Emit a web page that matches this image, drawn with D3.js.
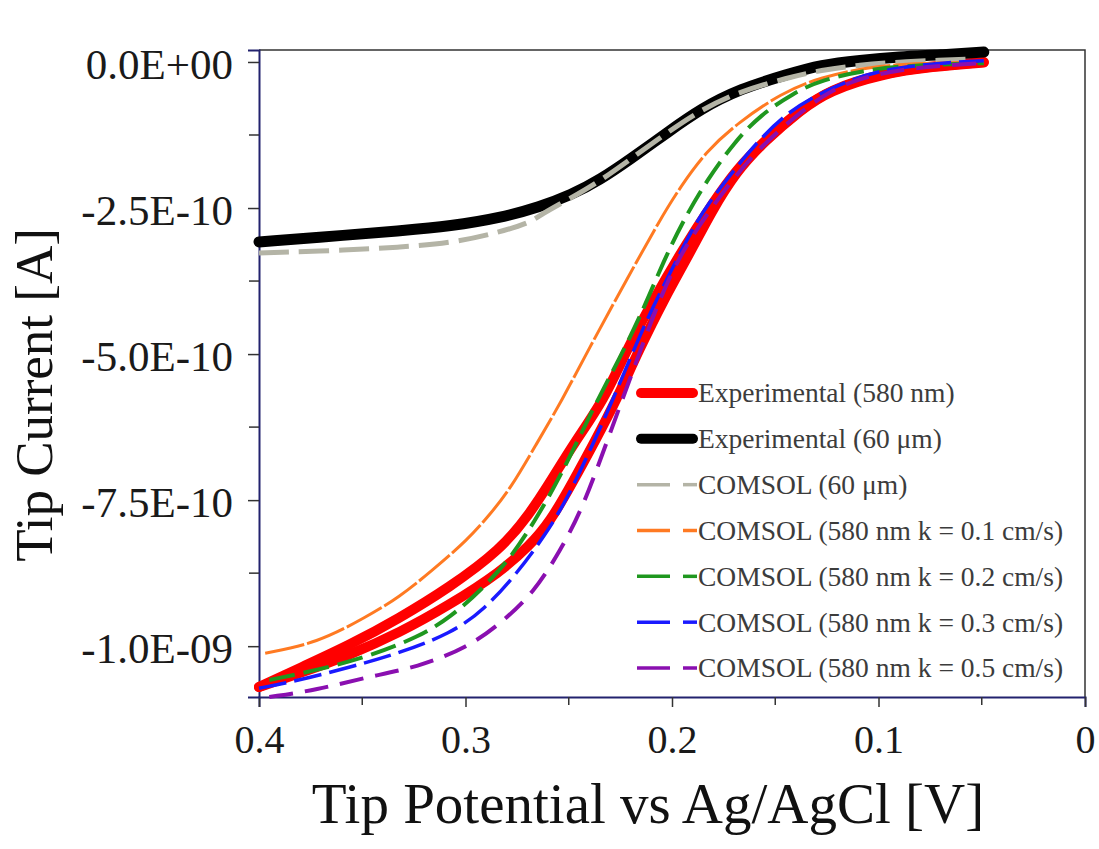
<!DOCTYPE html>
<html>
<head>
<meta charset="utf-8">
<script src="https://cdn.jsdelivr.net/npm/d3@7"></script>
<style>
  body { margin: 0; background: #fff; }
  text { font-family: "Liberation Serif", "Times New Roman", serif; }
</style>
</head>
<body>
<div id="chart"></div>
<script>
// potential in V, current in units of 1e-10 A
var expRedFwd = [[0.400,-10.70],[0.380,-10.37],[0.356,-9.98],[0.332,-9.52],[0.308,-9.00],[0.283,-8.35],
  [0.269,-7.74],[0.259,-7.19],[0.247,-6.50],[0.233,-5.79],[0.222,-4.93],[0.209,-4.07],[0.195,-3.22],
  [0.180,-2.40],[0.169,-1.85],[0.155,-1.34],[0.138,-0.82],[0.124,-0.48],[0.098,-0.19],[0.074,-0.07],
  [0.049,0.00]];
var expRedRev = [[0.400,-10.70],[0.380,-10.46],[0.356,-10.15],[0.332,-9.77],[0.308,-9.30],[0.283,-8.73],
  [0.269,-8.28],[0.259,-7.87],[0.248,-7.19],[0.237,-6.47],[0.227,-5.79],[0.216,-4.93],[0.204,-4.07],
  [0.191,-3.25],[0.181,-2.57],[0.169,-1.88],[0.155,-1.35],[0.138,-0.83],[0.124,-0.49],[0.098,-0.20],
  [0.074,-0.08],[0.049,-0.01]];
var expBlack = [[0.400,-3.08],[0.356,-2.96],[0.332,-2.89],[0.307,-2.81],[0.283,-2.67],[0.264,-2.48],
  [0.249,-2.28],[0.235,-2.02],[0.220,-1.66],[0.202,-1.20],[0.186,-0.80],[0.167,-0.46],[0.144,-0.21],
  [0.128,-0.05],[0.109,0.03],[0.090,0.09],[0.070,0.12],[0.049,0.17]];
var comsol60 = [[0.400,-3.27],[0.356,-3.22],[0.332,-3.17],[0.307,-3.10],[0.285,-2.93],[0.268,-2.74],
  [0.264,-2.62],[0.249,-2.33],[0.235,-2.04],[0.220,-1.66],[0.202,-1.20],[0.186,-0.82],[0.167,-0.50],
  [0.144,-0.27],[0.128,-0.14],[0.109,-0.05],[0.090,0.00],[0.070,0.03],[0.055,0.05]];
var comsolK01 = [[0.397,-10.12],[0.372,-9.95],[0.348,-9.50],[0.332,-9.16],[0.316,-8.70],[0.299,-8.18],
  [0.288,-7.74],[0.278,-7.29],[0.266,-6.56],[0.254,-5.84],[0.238,-4.76],[0.222,-3.73],[0.206,-2.71],
  [0.196,-2.14],[0.183,-1.51],[0.168,-1.04],[0.147,-0.53],[0.128,-0.26],[0.104,-0.08],[0.080,-0.02],[0.049,0.00]];
var comsolK02 = [[0.395,-10.58],[0.372,-10.41],[0.348,-10.19],[0.323,-9.85],[0.307,-9.50],[0.291,-8.99],
  [0.278,-8.48],[0.267,-7.89],[0.254,-7.10],[0.238,-5.91],[0.225,-5.05],[0.214,-4.25],[0.204,-3.40],
  [0.194,-2.68],[0.183,-2.02],[0.170,-1.38],[0.157,-0.90],[0.141,-0.53],[0.128,-0.31],[0.104,-0.12],
  [0.080,-0.05],[0.049,-0.02]];
var comsolK03 = [[0.400,-10.72],[0.380,-10.58],[0.356,-10.36],[0.332,-10.12],[0.307,-9.78],[0.291,-9.38],
  [0.275,-8.75],[0.262,-8.13],[0.251,-7.50],[0.238,-6.52],[0.226,-5.57],[0.214,-4.54],[0.202,-3.68],
  [0.190,-2.85],[0.183,-2.45],[0.170,-1.85],[0.157,-1.30],[0.144,-0.87],[0.131,-0.58],[0.113,-0.30],
  [0.097,-0.12],[0.065,0.00],[0.049,0.02]];
var comsolK05 = [[0.395,-10.87],[0.372,-10.75],[0.348,-10.53],[0.323,-10.36],[0.299,-10.02],[0.283,-9.61],
  [0.267,-9.09],[0.254,-8.36],[0.243,-7.62],[0.230,-6.35],[0.217,-5.10],[0.207,-4.15],[0.197,-3.35],
  [0.183,-2.60],[0.170,-1.98],[0.157,-1.45],[0.141,-0.95],[0.128,-0.60],[0.113,-0.31],[0.089,-0.12],
  [0.065,-0.05],[0.049,-0.02]];

var legendLabels = ["Experimental (580 nm)", "Experimental (60 \u03bcm)", "COMSOL (60 \u03bcm)",
  "COMSOL (580 nm k = 0.1 cm/s)", "COMSOL (580 nm k = 0.2 cm/s)",
  "COMSOL (580 nm k = 0.3 cm/s)", "COMSOL (580 nm k = 0.5 cm/s)"];
var xTickValues = [0.4, 0.3, 0.2, 0.1, 0];
var xTickLabels = ["0.4", "0.3", "0.2", "0.1", "0"];
var xMinorTicks = [0.35, 0.25, 0.15, 0.05];
var yTickValues = [0, -2.5, -5, -7.5, -10];
var yTickLabels = ["0.0E+00", "-2.5E-10", "-5.0E-10", "-7.5E-10", "-1.0E-09"];
var yMinorTicks = [-1.25, -3.75, -6.25, -8.75];

var W = 1099, H = 849;
var plotLeft = 259, plotRight = 1085, plotTop = 50, plotBottom = 697;

var svg = d3.select("#chart").append("svg")
    .attr("width", W)
    .attr("height", H);

var x = d3.scaleLinear().domain([0.4, 0]).range([plotLeft, plotRight]);
var y = d3.scaleLinear().domain([-10.87, 0.205]).range([plotBottom, plotTop]);

// frame top / right
svg.append("path")
    .attr("d", "M" + plotLeft + "," + plotTop + "H" + plotRight + "V" + plotBottom)
    .attr("fill", "none")
    .attr("stroke", "#333")
    .attr("stroke-width", 1.5);

var xAxis = svg.append("g")
    .attr("transform", "translate(0," + plotBottom + ")")
    .call(d3.axisBottom(x).tickValues(xTickValues).tickSize(10).tickPadding(18)
        .tickFormat(function(d, i) { return xTickLabels[i]; }));
xAxis.append("g").selectAll("line").data(xMinorTicks).enter().append("line")
    .attr("x1", function(d) { return x(d); }).attr("x2", function(d) { return x(d); })
    .attr("y1", 0).attr("y2", 8).attr("stroke", "#333").attr("stroke-width", 1.5);

var yAxis = svg.append("g")
    .attr("transform", "translate(" + plotLeft + ",0)")
    .call(d3.axisLeft(y).tickValues(yTickValues).tickSize(11).tickPadding(15)
        .tickFormat(function(d, i) { return yTickLabels[i]; }));
yAxis.append("g").selectAll("line").data(yMinorTicks).enter().append("line")
    .attr("y1", function(d) { return y(d); }).attr("y2", function(d) { return y(d); })
    .attr("x1", 0).attr("x2", -10).attr("stroke", "#333").attr("stroke-width", 1.5);

[xAxis, yAxis].forEach(function(a) {
    a.select(".domain").attr("stroke", "#22226e").attr("stroke-width", 2);
    a.selectAll(".tick line").attr("stroke", "#333").attr("stroke-width", 1.5);
    a.selectAll(".tick text")
        .attr("font-family", "'Liberation Serif', 'Times New Roman', serif")
        .attr("font-size", 40)
        .attr("fill", "#1a1a1a");
});
yAxis.selectAll(".tick text").attr("font-size", 43).attr("dy", "0.38em");

svg.append("text")
    .attr("x", 648).attr("y", 823)
    .attr("text-anchor", "middle")
    .attr("font-size", 57)
    .attr("fill", "#111")
    .text("Tip Potential vs Ag/AgCl [V]");

svg.append("text")
    .attr("transform", "translate(52,395) rotate(-90)")
    .attr("text-anchor", "middle")
    .attr("font-size", 53)
    .attr("fill", "#111")
    .text("Tip Current [A]");

// basis curve smooths the hand-read points a little
var line = d3.line()
    .x(function(d) { return x(d[0]); })
    .y(function(d) { return y(d[1]); })
    .curve(d3.curveBasis);

var series = [
    {data: [expRedFwd, expRedRev], color: "#ff0000", width: 10, dash: null},
    {data: [expBlack], color: "#000000", width: 11, dash: null},
    {data: [comsol60], color: "#b4b4a6", width: 5, dash: "30,10"},
    {data: [comsolK01], color: "#ff7a22", width: 3, dash: "40,3"},
    {data: [comsolK02], color: "#1f971f", width: 4, dash: "26,9"},
    {data: [comsolK03], color: "#1a1aff", width: 3.5, dash: "28,8"},
    {data: [comsolK05], color: "#8a0fb0", width: 4, dash: "24,12"}
];

series.forEach(function(s) {
    s.data.forEach(function(arr) {
        svg.append("path")
            .attr("d", line(arr))
            .attr("fill", "none")
            .attr("stroke", s.color)
            .attr("stroke-width", s.width)
            .attr("stroke-linecap", s.dash ? "butt" : "round")
            .attr("stroke-linejoin", "round")
            .attr("stroke-dasharray", s.dash);
    });
});

// legend
var legY = d3.scaleLinear().domain([0, 6]).range([393, 668]);
var leg = svg.append("g");
legendLabels.forEach(function(lab, i) {
    var s = series[i];
    var yy = legY(i);
    if (s.dash) {
        leg.append("line")
            .attr("x1", 637).attr("x2", 670).attr("y1", yy).attr("y2", yy)
            .attr("stroke", s.color).attr("stroke-width", 3.5);
        leg.append("line")
            .attr("x1", 683).attr("x2", 697).attr("y1", yy).attr("y2", yy)
            .attr("stroke", s.color).attr("stroke-width", 3.5);
    } else {
        leg.append("line")
            .attr("x1", 641).attr("x2", 693).attr("y1", yy).attr("y2", yy)
            .attr("stroke", s.color).attr("stroke-width", 10)
            .attr("stroke-linecap", "round");
    }
    leg.append("text")
        .attr("x", 698).attr("y", yy)
        .attr("dy", "0.34em")
        .attr("font-size", 27.5)
        .attr("fill", "#3c3c3c")
        .text(lab);
});
</script>
</body>
</html>
